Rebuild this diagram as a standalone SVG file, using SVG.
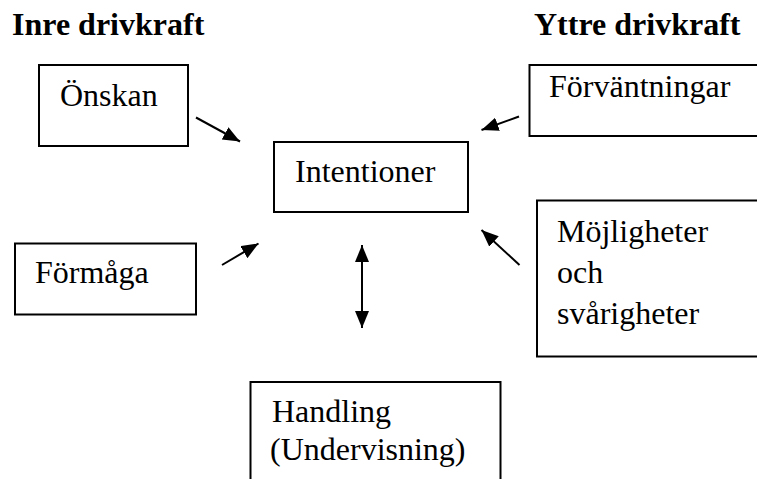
<svg xmlns="http://www.w3.org/2000/svg" width="757" height="479" viewBox="0 0 757 479">
<style>
  .box { fill: #fff; stroke: #000; stroke-width: 2; }
  .t { font-family: "Liberation Serif", "Times New Roman", serif; font-size: 32px; fill: #000; }
  .h { font-weight: bold; }
  .c { stroke: #000; stroke-width: 2; fill: none; marker-end: url(#ah); }
</style>
<defs>
  <marker id="ah" markerUnits="userSpaceOnUse" markerWidth="18" markerHeight="15" refX="17" refY="7" orient="auto-start-reverse">
    <path d="M0,0 L17,7 L0,14 z" fill="#000"/>
  </marker>
</defs>
<rect width="757" height="479" fill="#fff"/>
<g id="headings">
  <text class="t h" x="12" y="35">Inre drivkraft</text>
  <text class="t h" x="534" y="35">Yttre drivkraft</text>
</g>
<g id="onskan">
  <rect class="box" x="39" y="65" width="149" height="81"/>
  <text class="t" x="60" y="106">Önskan</text>
</g>
<g id="intentioner">
  <rect class="box" x="274" y="142" width="194" height="70"/>
  <text class="t" x="295" y="182">Intentioner</text>
</g>
<g id="forvantningar">
  <rect class="box" x="529.5" y="65" width="240" height="71"/>
  <text class="t" x="549" y="97">Förväntningar</text>
</g>
<g id="formaga">
  <rect class="box" x="15" y="243.5" width="181" height="71"/>
  <text class="t" x="35" y="283">Förmåga</text>
</g>
<g id="mojligheter">
  <rect class="box" x="537" y="200.5" width="240" height="156"/>
  <text class="t" x="557" y="242">Möjligheter</text>
  <text class="t" x="557" y="283">och</text>
  <text class="t" x="557" y="324">svårigheter</text>
</g>
<g id="handling">
  <rect class="box" x="250.5" y="382" width="250" height="120"/>
  <text class="t" x="272" y="422">Handling</text>
  <text class="t" x="270" y="460">(Undervisning)</text>
</g>
<g id="connectors">
  <line class="c" x1="196" y1="117.5" x2="240" y2="141.5"/>
  <line class="c" x1="519" y1="116.5" x2="481.5" y2="130"/>
  <line class="c" x1="222" y1="265" x2="258.5" y2="243.5"/>
  <line class="c" x1="519.5" y1="265" x2="481.5" y2="230"/>
  <line class="c" x1="362" y1="245" x2="362" y2="328" style="marker-start:url(#ah)"/>
</g>
</svg>
